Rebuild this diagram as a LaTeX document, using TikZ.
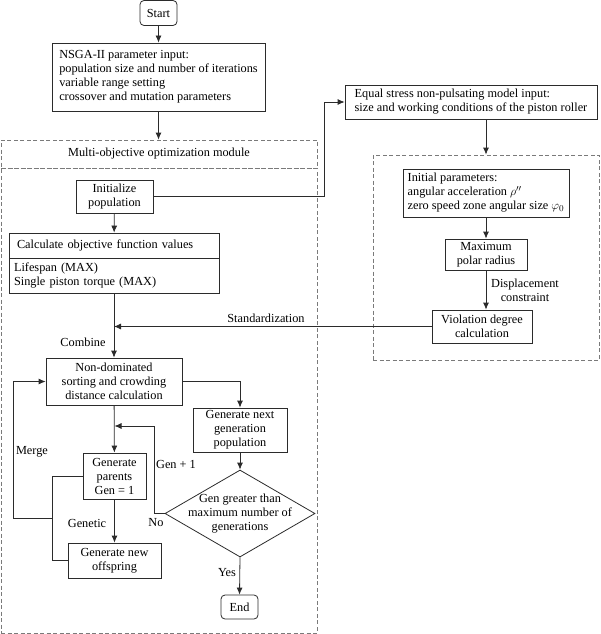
\documentclass[tikz,border=0pt]{standalone}
\usepackage{fontspec}
\setmainfont{Liberation Serif}
\usetikzlibrary{shapes.geometric,arrows.meta}
\definecolor{lc}{HTML}{2B2B2B}
\definecolor{dc}{HTML}{7A7A7A}
\begin{document}
\begin{tikzpicture}[x=1pt,y=-1pt,
  font=\fontsize{12.3}{14}\selectfont,
  box/.style={draw=lc, line width=0.8pt, inner sep=2pt, align=center},
  rbox/.style={box, rounded corners=4pt},
  dbox/.style={draw=dc, line width=0.8pt, dash pattern=on 4pt off 2.5pt},
  arr/.style={draw=lc, line width=0.8pt, -{Latex[length=7pt,width=6pt]}},
  ln/.style={draw=lc, line width=0.8pt},
  lbl/.style={inner sep=1pt, align=center}]
\useasboundingbox (0,0) rectangle (600,634);

% dashed module boxes
\node[dbox, minimum width=316pt, minimum height=28pt] (modtitle) at (159,154) {Multi-objective optimization module};
\node[dbox, minimum width=316pt, minimum height=465pt] (modbody) at (159,400.5) {};
\node[dbox, minimum width=226pt, minimum height=205pt] (model) at (486,257.5) {};

% nodes
\node[rbox, minimum width=37pt, minimum height=25pt] (start) at (158.5,13) {Start};
\node[box, minimum width=213pt, minimum height=68pt, align=left] (nsga) at (158.5,77)
  {NSGA-II parameter input:\\population size and number of iterations\\variable range setting\\crossover and mutation parameters};
\node[box, minimum width=77pt, minimum height=33pt] (init) at (114.5,196.5) {Initialize\\population};
\node[box, minimum width=252pt, minimum height=34pt, align=left] (eq) at (471,102)
  {Equal stress non-pulsating model input:\\size and working conditions of the piston roller};
\node[box, minimum width=166pt, minimum height=48pt, align=left] (initp) at (486,193)
  {Initial parameters:\\angular acceleration $\rho''$\\zero speed zone angular size $\varphi_0$};
\node[box, minimum width=82pt, minimum height=31pt] (maxr) at (486,254.5) {Maximum\\polar radius};
\node[box, minimum width=100pt, minimum height=33pt] (viol) at (482,326.5) {Violation degree\\calculation};
\node[box, minimum width=210pt, minimum height=25pt, text width=194pt, inner xsep=8pt, align=left] (calct) at (114,245.5)
  {Calculate objective function values};
\node[box, minimum width=210pt, minimum height=35pt, text width=200pt, inner xsep=5pt, align=left] (calcb) at (114,275.5)
  {Lifespan (MAX)\\Single piston torque (MAX)};
\node[box, minimum width=136pt, minimum height=47pt] (nd) at (114,381.5)
  {Non-dominated\\sorting and crowding\\distance calculation};
\node[box, minimum width=94pt, minimum height=44pt] (gnext) at (240,430)
  {Generate next\\generation\\population};
\node[draw=lc, line width=0.8pt, diamond, inner sep=0pt, minimum width=150pt, minimum height=87pt] (dia) at (240,513.5) {};
\node[lbl] (diatext) at (dia.center) {Gen greater than\\maximum number of\\generations};
\node[rbox, minimum width=37pt, minimum height=24pt] (end) at (239.5,607) {End};
\node[box, minimum width=63pt, minimum height=46pt] (gpar) at (114.5,476) {Generate\\parents\\Gen = 1};
\node[box, minimum width=93pt, minimum height=35pt] (goff) at (114.5,560.5) {Generate new\\offspring};

% helper coordinates
\coordinate (c1) at (324,0);
\coordinate (c2) at (154,426);
\coordinate (c3) at (52,0);
\coordinate (c4) at (52,518);
\coordinate (c5) at (13,0);

% connectors
\draw[arr] (start) -- (nsga);
\draw[arr] (nsga.south) -- (nsga.south |- modtitle.north);
\draw[arr] (init.east) -- (init.east -| c1) |- (eq.west);
\draw[arr] (model.north |- eq.south) -- (model.north);
\draw[arr] (initp) -- (maxr);
\draw[arr] (maxr.south) -- (maxr.south |- viol.north);
\draw[arr] (viol.west) -- (viol.west -| nd.north);
\draw[arr] (init) -- (calct);
\draw[arr] (calcb) -- (nd);
\draw[arr] (nd.east) -| (gnext.north);
\draw[arr] (gnext) -- (dia);
\draw[arr] (dia.south) -- (end.north);
\draw[arr] (dia.west) -| (c2) -- (c2 -| gpar.north);
\draw[arr] (nd) -- (gpar);
\draw[arr] (gpar) -- (goff);
\draw[ln] (gpar.west) -- (gpar.west -| c3) -- (goff.west -| c3) -- (goff.west);
\draw[arr] (c4) -- (c4 -| c5) |- (nd.west);

% labels
\node[lbl] (disp) at (525,290) {Displacement\\constraint};
\node[lbl] (std) at (266,318) {Standardization};
\node[lbl] (comb) at (83,342) {Combine};
\node[lbl] (merge) at (32,452) {Merge};
\node[lbl] (genetic) at (87,523) {Genetic};
\node[lbl] (no) at (156,523) {No};
\node[lbl] (gen1) at (176,464) {Gen + 1};
\node[lbl] (yes) at (227,573) {Yes};
\end{tikzpicture}
\end{document}
